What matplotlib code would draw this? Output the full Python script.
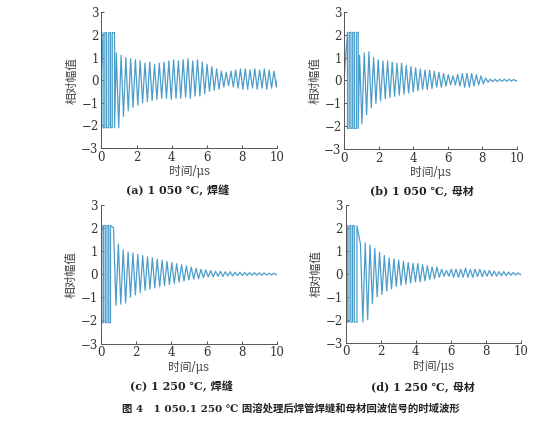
import numpy as np
import matplotlib.pyplot as plt

plt.rcParams['font.family'] = ['DejaVu Serif', 'Noto Sans CJK SC']

# saturated burst at the start: switching times (us) and clip level
burst_a = [0.10, 0.20, 0.30, 0.42, 0.52, 0.62, 0.75]
burst_b = [0.18, 0.28, 0.38, 0.48, 0.58, 0.70, 0.80]
burst_c = [0.05, 0.15, 0.25, 0.35, 0.45, 0.55]
burst_d = [0.10, 0.20, 0.30, 0.40, 0.50, 0.65]
clip = 2.1
start_vals = [0.45, 0.25, 0.4, 0.0]
ring_start = [0.85, 0.88, 0.72, 0.85]

# ring-down peak (hi) and trough (lo) values
hi_a = [1.2, 1.1, 1.0, 0.95, 0.9, 0.85, 0.75, 0.8, 0.7, 0.75, 0.8, 0.85, 0.9, 0.85,
        0.9, 0.95, 0.85, 0.9, 0.8, 0.7, 0.6, 0.5, 0.4, 0.35, 0.4, 0.45, 0.5, 0.5,
        0.45, 0.5, 0.45, 0.5, 0.45, 0.4]
lo_a = [-2.1, -1.6, -1.35, -1.2, -1.1, -1.0, -0.95, -0.9, -0.85, -0.8, -0.8, -0.85,
        -0.8, -0.8, -0.75, -0.8, -0.7, -0.7, -0.6, -0.5, -0.45, -0.4, -0.3, -0.25,
        -0.3, -0.35, -0.4, -0.4, -0.35, -0.4, -0.35, -0.4, -0.35, -0.3]
hi_b = [1.1, 1.2, 1.25, 1.0, 0.9, 0.85, 0.85, 0.8, 0.75, 0.75, 0.65, 0.6, 0.55, 0.5,
        0.45, 0.45, 0.4, 0.35, 0.3, 0.25, 0.2, 0.25, 0.3, 0.3, 0.3, 0.25, 0.2, 0.1,
        0.05, 0.05, 0.05, 0.05, 0.05, 0.04]
lo_b = [-1.9, -1.5, -1.2, -1.0, -0.9, -0.8, -0.75, -0.7, -0.65, -0.6, -0.55, -0.5,
        -0.45, -0.4, -0.4, -0.35, -0.3, -0.3, -0.25, -0.2, -0.2, -0.25, -0.3, -0.3,
        -0.25, -0.2, -0.15, -0.08, -0.05, -0.05, -0.04, -0.04, -0.03, -0.03]
hi_c = [2.0, 1.3, 1.05, 0.95, 0.9, 0.85, 0.8, 0.75, 0.7, 0.65, 0.6, 0.55, 0.5, 0.45,
        0.4, 0.35, 0.3, 0.25, 0.2, 0.18, 0.15, 0.12, 0.12, 0.1, 0.1, 0.08, 0.08, 0.07,
        0.06, 0.06, 0.05, 0.05, 0.04, 0.04]
lo_c = [-1.35, -1.3, -1.25, -1.0, -0.9, -0.8, -0.7, -0.65, -0.6, -0.55, -0.5, -0.45,
        -0.4, -0.35, -0.3, -0.25, -0.22, -0.2, -0.15, -0.12, -0.12, -0.1, -0.1, -0.08,
        -0.08, -0.07, -0.06, -0.06, -0.05, -0.05, -0.05, -0.04, -0.04, -0.03]
hi_d = [1.3, 1.35, 1.25, 1.1, 0.95, 0.8, 0.7, 0.65, 0.6, 0.55, 0.5, 0.45, 0.45, 0.4,
        0.35, 0.3, 0.3, 0.2, 0.15, 0.2, 0.2, 0.2, 0.25, 0.2, 0.2, 0.2, 0.15, 0.15,
        0.12, 0.1, 0.1, 0.08, 0.06, 0.05]
lo_d = [-2.1, -2.0, -1.3, -1.0, -0.9, -0.75, -0.65, -0.55, -0.5, -0.45, -0.4, -0.35,
        -0.35, -0.3, -0.25, -0.2, -0.15, -0.1, -0.1, -0.15, -0.15, -0.15, -0.15, -0.15,
        -0.12, -0.12, -0.1, -0.1, -0.1, -0.08, -0.08, -0.06, -0.05, -0.04]

captions = ['(a) 1 050 ℃, 焊缝', '(b) 1 050 ℃, 母材', '(c) 1 250 ℃, 焊缝', '(d) 1 250 ℃, 母材']
title = '图 4　1 050.1 250 ℃ 固溶处理后焊管焊缝和母材回波信号的时域波形'

bursts = [burst_a, burst_b, burst_c, burst_d]
his = [hi_a, hi_b, hi_c, hi_d]
los = [lo_a, lo_b, lo_c, lo_d]

rects = [[0.181, 0.649, 0.314, 0.322],
         [0.615, 0.647, 0.308, 0.325],
         [0.180, 0.186, 0.315, 0.329],
         [0.617, 0.188, 0.314, 0.326]]
cap_pos = [(0.318, 0.548), (0.753, 0.548), (0.324, 0.085), (0.755, 0.083)]

color = '#4d9dca'

fig = plt.figure(figsize=(5.6, 4.22), dpi=100)
for i in range(4):
    ax = fig.add_axes(rects[i])
    edges = bursts[i]
    # clipped burst drawn as a square wave
    t = [0.0, edges[0], edges[0]]
    y = [start_vals[i], clip, -clip]
    cur = -clip
    for e in edges[1:]:
        t += [e, e]
        y += [cur, -cur]
        cur = -cur
    # ring-down: alternate peaks and troughs
    hi, lo = his[i], los[i]
    n = len(hi)
    tk = np.linspace(ring_start[i], 9.95, 2 * n)
    vals = []
    for k in range(n):
        vals += [hi[k], lo[k]]
    t = t + list(tk) + [10.0]
    y = y + vals + [0.0]
    ax.plot(t, y, color=color, lw=0.9)

    ax.set_xlim(0, 10)
    ax.set_ylim(-3, 3)
    ax.set_xticks([0, 2, 4, 6, 8, 10])
    ax.set_yticks([-3, -2, -1, 0, 1, 2, 3])
    for s in ['top', 'right']:
        ax.spines[s].set_visible(False)
    for s in ['left', 'bottom']:
        ax.spines[s].set_color('#555555')
        ax.spines[s].set_linewidth(0.7)
    ax.tick_params(direction='in', length=2.5, width=0.6, labelsize=8.5,
                   colors='#333333', pad=2)
    ax.set_xlabel('时间/μs', fontsize=8.5, color='#444444', labelpad=1)
    ax.set_ylabel('相对幅值', fontsize=8.5, color='#444444', labelpad=2)
    fig.text(cap_pos[i][0], cap_pos[i][1], captions[i], ha='center', va='center',
             fontsize=8, fontweight='bold', color='#222222')

fig.text(0.52, 0.031, title, ha='center', va='center', fontsize=7.5,
         fontweight='bold', color='#222222')

fig.savefig('out.png', dpi=100)
